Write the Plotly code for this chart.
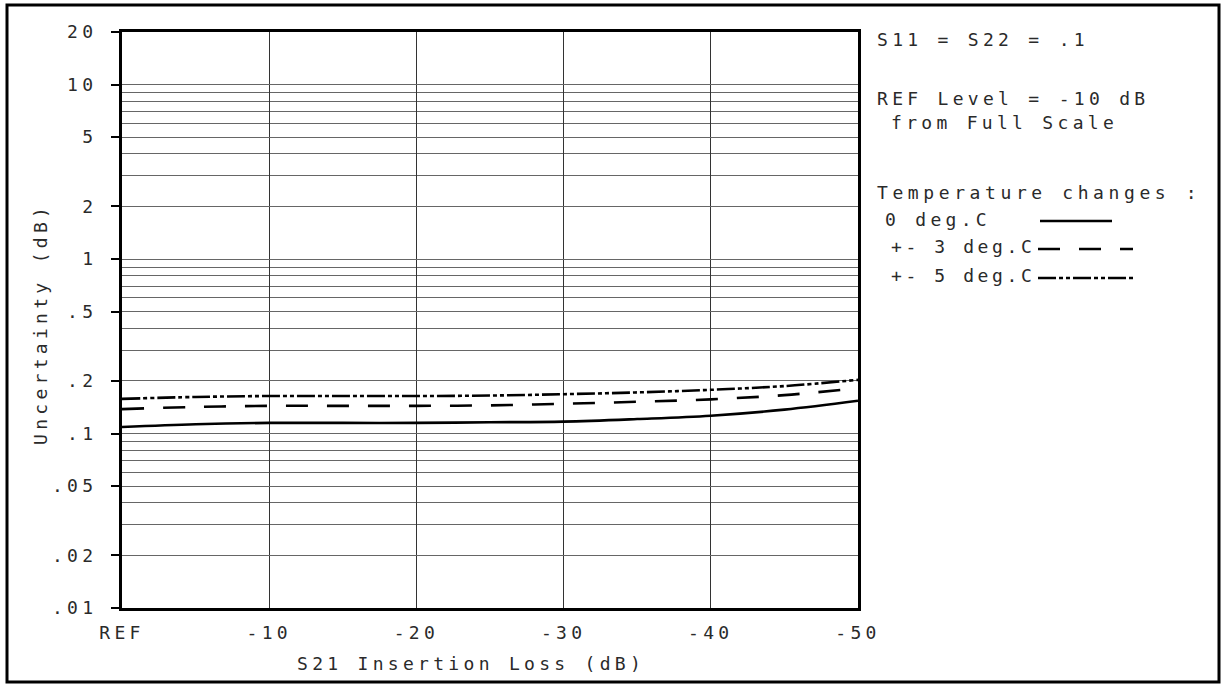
import plotly.graph_objects as go

# ---- data ----
insertion_loss = [0, -5, -10, -15, -20, -25, -30, -35, -40, -45, -50]
unc_0deg = [0.109, 0.113, 0.115, 0.115, 0.115, 0.116, 0.117, 0.121, 0.1265, 0.137, 0.154]
unc_3deg = [0.138, 0.142, 0.144, 0.144, 0.144, 0.145, 0.148, 0.152, 0.157, 0.166, 0.182]
unc_5deg = [0.158, 0.162, 0.164, 0.164, 0.164, 0.165, 0.168, 0.172, 0.178, 0.187, 0.203]

x_tickvals = [0, -10, -20, -30, -40, -50]
x_ticktext = ["REF", "-10", "-20", "-30", "-40", "-50"]
y_tickvals = [0.01, 0.02, 0.05, 0.1, 0.2, 0.5, 1, 2, 5, 10, 20]
y_ticktext = [".01", ".02", ".05", ".1", ".2", ".5", "1", "2", "5", "10", "20"]
y_minorvals = [k * 10.0 ** e for e in (-2, -1, 0) for k in (3, 4, 6, 7, 8, 9)]

FONT = "DejaVu Sans Mono"
TXT = "#2a2a2a"
FS = 18
LS = 4.3  # letter spacing


def sp(t, ls=LS):
    return '<span style="letter-spacing:%spx">%s</span>' % (ls, t)


W, H = 1225, 688
# plot-area edges in pixels
L, R, T, B = 122, 858, 32, 608
pw, ph = R - L, B - T


def px(x):
    return (x - L) / pw


def py(y):
    return (B - y) / ph


fig = go.Figure()
line_specs = [
    (unc_0deg, "0 deg.C", "solid"),
    (unc_3deg, "+- 3 deg.C", "22px,19px"),
    (unc_5deg, "+- 5 deg.C", "18px,3px,4px,3px,4px,3px"),
]
for ys, name, dash in line_specs:
    fig.add_trace(go.Scatter(x=insertion_loss, y=ys, mode="lines", name=name,
                             line=dict(color="black", width=2.6, dash=dash, shape="spline"),
                             showlegend=False, hoverinfo="skip"))

fig.update_layout(
    width=W, height=H,
    margin=dict(l=L, r=W - R, t=T, b=H - B),
    paper_bgcolor="white", plot_bgcolor="white",
    font=dict(family=FONT, size=FS, color=TXT),
    showlegend=False,
)
fig.update_xaxes(
    range=[0, -50], tickvals=x_tickvals, ticktext=[sp(t) for t in x_ticktext],
    showgrid=True, gridcolor="#333", gridwidth=1,
    showline=True, linecolor="black", linewidth=3, mirror=True,
    ticks="", zeroline=False, ticklabelstandoff=6,
    tickfont=dict(family=FONT, size=FS, color=TXT),
)
fig.update_yaxes(
    type="log", range=[-2, 1.30103], tickvals=y_tickvals, ticktext=[sp(t) for t in y_ticktext],
    showgrid=True, gridcolor="#666", gridwidth=1,
    minor=dict(tickvals=y_minorvals, showgrid=True, gridcolor="#666", gridwidth=1, ticks=""),
    showline=True, linecolor="black", linewidth=3, mirror=True,
    ticks="outside", ticklen=8, tickwidth=1.5, tickcolor="black",
    zeroline=False, ticklabelstandoff=10,
    tickfont=dict(family=FONT, size=FS, color=TXT),
)

# outer frame
fig.add_shape(type="rect", xref="paper", yref="paper",
              x0=px(7), x1=px(1219), y0=py(682), y1=py(5),
              line=dict(color="black", width=3))

# axis titles
fig.add_annotation(text=sp("S21 Insertion Loss (dB)"), xref="paper", yref="paper",
                   x=px(471), y=py(663), showarrow=False, xanchor="center", yanchor="middle")
fig.add_annotation(text=sp("Uncertainty (dB)"), xref="paper", yref="paper",
                   x=px(40), y=py(324), showarrow=False, textangle=-90,
                   xanchor="center", yanchor="middle")

# right-side notes
notes = [
    ("S11 = S22 = .1", 875, 40, LS),
    ("REF Level = -10 dB", 875, 99, LS),
    ("from Full Scale", 889, 122, LS),
    ("Temperature changes :", 875, 193, 4.6),
    ("0 deg.C", 883, 219, LS),
    ("+- 3 deg.C", 889, 246, 3.6),
    ("+- 5 deg.C", 889, 275, 3.6),
]
for t, x, y, ls in notes:
    fig.add_annotation(text=sp(t, ls), xref="paper", yref="paper", x=px(x), y=py(y),
                       showarrow=False, xanchor="left", yanchor="middle")

# legend samples
samples = [("solid", 1040, 1112, 221), ("22px,19px", 1038, 1133, 249),
           ("18px,3px,4px,3px,4px,3px", 1038, 1133, 278)]
for dash, x0, x1, y in samples:
    fig.add_shape(type="line", xref="paper", yref="paper", x0=px(x0), x1=px(x1),
                  y0=py(y), y1=py(y), line=dict(color="black", width=2.6, dash=dash))

fig.write_html("out.html", config={"displayModeBar": False},
               post_script="document.body.style.margin='0';")
